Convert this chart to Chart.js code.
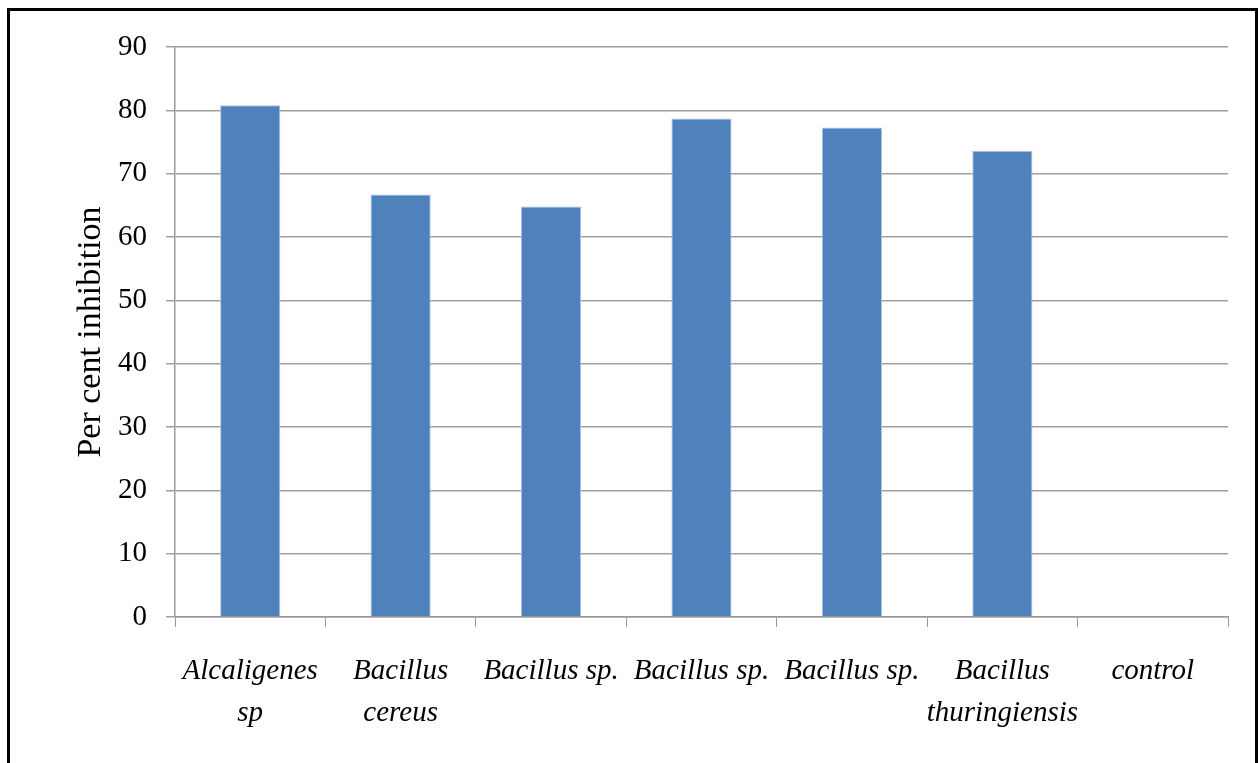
<!DOCTYPE html>
<html>
<head>
<meta charset="utf-8">
<script src="https://cdn.jsdelivr.net/npm/chart.js@4/dist/chart.umd.min.js"></script>
<style>
  html, body { margin: 0; padding: 0; background: #fff; overflow: hidden; }
  #wrap { position: absolute; left: 0; top: 0; width: 1259px; height: 763px; }
  #frame { position: absolute; left: 7px; top: 8px; width: 1245px; height: 800px; border: 3px solid #000; pointer-events: none; }
</style>
</head>
<body>
<div id="wrap"><canvas id="myChart" width="1259" height="763"></canvas></div>
<div id="frame"></div>
<script>
// data
let categories = [
  ['Alcaligenes', 'sp'],
  ['Bacillus', 'cereus'],
  'Bacillus sp.',
  'Bacillus sp.',
  'Bacillus sp.',
  ['Bacillus', 'thuringiensis'],
  'control'
]
let inhibition = [80.8, 66.7, 64.8, 78.7, 77.3, 73.6, 0]
let yTicks = [0, 10, 20, 30, 40, 50, 60, 70, 80, 90]

let ctx = document.getElementById('myChart').getContext('2d')

let graph = new Chart(ctx, {
  type: 'bar',
  data: {
    labels: categories,
    datasets: [{
      label: 'Per cent inhibition',
      backgroundColor: '#4f81bd',
      borderColor: '#a9c3e3',
      borderWidth: 1,
      categoryPercentage: 1,
      barPercentage: 0.4,
      data: inhibition
    }]
  },
  options: {
    responsive: false,
    animation: false,
    layout: { padding: { left: 0, top: 47, right: 31, bottom: 0 } },
    plugins: { legend: { display: false }, tooltip: { enabled: false } },
    scales: {
      x: {
        grid: { drawOnChartArea: false, drawTicks: true, tickLength: 10, color: '#999', offset: true },
        border: { display: true, color: '#999', width: 1.5 },
        ticks: {
          color: '#000',
          padding: 23,
          maxRotation: 0,
          autoSkip: false,
          font: { family: 'Liberation Serif', size: 29, style: 'italic', lineHeight: 1.45 }
        },
        afterFit: (scale) => { scale.height = 146 }
      },
      y: {
        min: 0,
        max: 90,
        afterBuildTicks: (scale) => { scale.ticks = yTicks.map(v => ({ value: v })) },
        grid: { color: '#a0a0a0', lineWidth: 1.5, tickLength: 9 },
        border: { display: true, color: '#999', width: 1.5 },
        ticks: {
          color: '#000',
          padding: 19,
          font: { family: 'Liberation Serif', size: 29 }
        },
        title: {
          display: true,
          text: 'Per cent inhibition',
          color: '#000',
          padding: { top: 71, bottom: 0 },
          font: { family: 'Liberation Serif', size: 34 }
        },
        afterFit: (scale) => { scale.width = 175 }
      }
    }
  }
})
</script>
</body>
</html>
